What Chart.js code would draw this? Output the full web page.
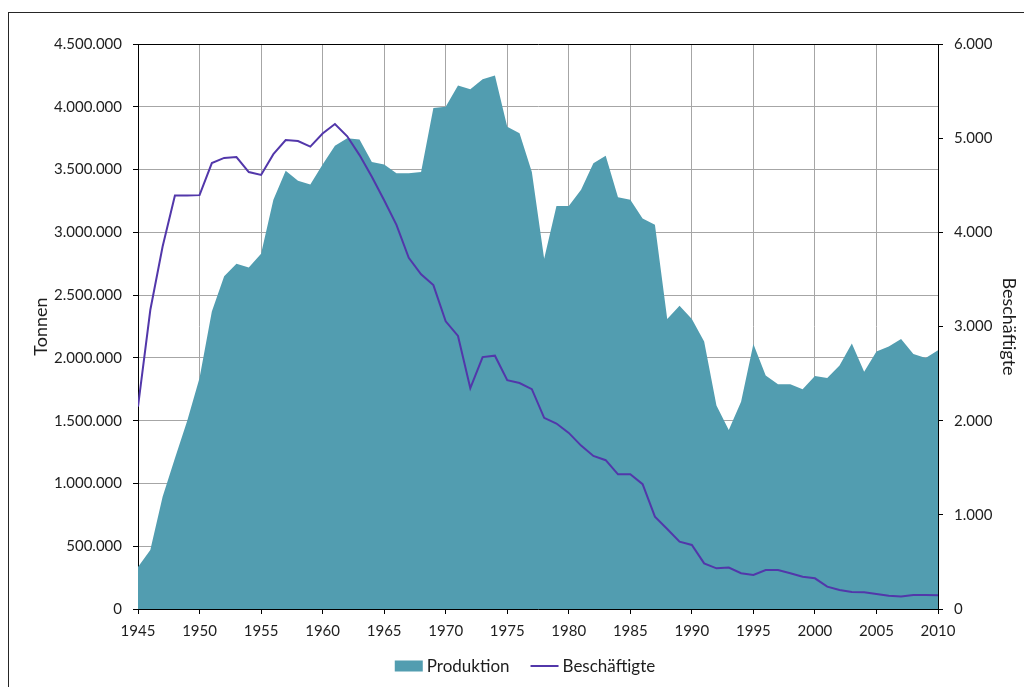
<!DOCTYPE html>
<html lang="de">
<head>
<meta charset="utf-8">
<title>Produktion und Beschäftigte 1945–2010</title>
<script src="https://cdn.jsdelivr.net/npm/chart.js@4.4.1/dist/chart.umd.min.js"></script>
<style>
  html, body { margin: 0; padding: 0; background: #fff; }
  #wrap { position: relative; width: 1024px; height: 687px; }
</style>
</head>
<body>
<div id="wrap"><canvas id="myChart"></canvas></div>
<script>
// Jahre 1945 bis 2010
const jahre = [
  1945, 1946, 1947, 1948, 1949, 1950, 1951, 1952, 1953, 1954,
  1955, 1956, 1957, 1958, 1959, 1960, 1961, 1962, 1963, 1964,
  1965, 1966, 1967, 1968, 1969, 1970, 1971, 1972, 1973, 1974,
  1975, 1976, 1977, 1978, 1979, 1980, 1981, 1982, 1983, 1984,
  1985, 1986, 1987, 1988, 1989, 1990, 1991, 1992, 1993, 1994,
  1995, 1996, 1997, 1998, 1999, 2000, 2001, 2002, 2003, 2004,
  2005, 2006, 2007, 2008, 2009, 2010
];

// Produktion in Tonnen
const produktion = [
  334000, 470000, 894000, 1200000, 1500000, 1840000, 2370000, 2650000, 2750000, 2720000,
  2830000, 3260000, 3490000, 3410000, 3380000, 3540000, 3690000, 3750000, 3740000, 3560000,
  3540000, 3470000, 3470000, 3480000, 3990000, 4000000, 4170000, 4140000, 4220000, 4250000,
  3840000, 3790000, 3480000, 2790000, 3210000, 3210000, 3340000, 3550000, 3610000, 3280000,
  3260000, 3110000, 3060000, 2310000, 2415000, 2310000, 2130000, 1620000, 1425000, 1650000,
  2110000, 1860000, 1790000, 1790000, 1750000, 1855000, 1840000, 1940000, 2115000, 1890000,
  2050000, 2090000, 2150000, 2030000, 2000000, 2060000
];

// Beschäftigte
const beschaeftigte = [
  2150, 3175, 3850, 4390, 4390, 4395, 4735, 4790, 4800, 4640,
  4610, 4830, 4980, 4970, 4910, 5050, 5150, 5020, 4820, 4590,
  4340, 4080, 3730, 3555, 3440, 3055, 2900, 2345, 2675, 2690,
  2430, 2400, 2335, 2030, 1970, 1870, 1735, 1625, 1580, 1430,
  1430, 1325, 980, 850, 715, 680, 485, 432, 440, 380,
  362, 414, 414, 380, 343, 326, 237, 202, 181, 178,
  159, 141, 134, 149, 149, 145
];

// Achsenbereiche
const xAchse = { min: 1945, max: 2010, schritt: 5 };
const tonnenAchse = { min: 0, max: 4500000, schritt: 500000 };
const personenAchse = { min: 0, max: 6000, schritt: 1000 };

const farbeProduktion = '#529db0';
const farbeBeschaeftigte = '#5237aa';
const textFarbe = '#1e1e1e';
const gitter = '#a6a6a6';
const schrift = 'Lato, "Open Sans", sans-serif';

function punkt(n) {
  return String(Math.round(n)).replace(/\B(?=(\d{3})+(?!\d))/g, '.');
}

// Rahmen um das Diagramm
const rahmen = {
  id: 'rahmen',
  beforeDraw(chart) {
    const ctx = chart.ctx;
    ctx.save();
    ctx.strokeStyle = '#262626';
    ctx.lineWidth = 1;
    ctx.strokeRect(8.5, 12.5, 1034, 700);
    ctx.restore();
  }
};

// Legende unten, mittig im Rahmen
const legende = {
  id: 'legende',
  afterDraw(chart) {
    const ctx = chart.ctx;
    const ds = chart.data.datasets;
    const mitte = 525, y = 666;
    const box = 28, luecke = 4, abstand = 21;
    ctx.save();
    ctx.font = '17px ' + schrift;
    ctx.textBaseline = 'middle';
    ctx.fillStyle = textFarbe;
    let breite = 0;
    ds.forEach((d, i) => {
      breite += box + luecke + ctx.measureText(d.label).width;
      if (i < ds.length - 1) breite += abstand;
    });
    let x = mitte - breite / 2;
    ds.forEach(d => {
      if (d.fill) {
        ctx.fillStyle = d.backgroundColor;
        ctx.fillRect(x, y - 5.5, box, 11);
      } else {
        ctx.strokeStyle = d.borderColor;
        ctx.lineWidth = 2;
        ctx.beginPath();
        ctx.moveTo(x, y);
        ctx.lineTo(x + box, y);
        ctx.stroke();
      }
      x += box + luecke;
      ctx.fillStyle = textFarbe;
      ctx.fillText(d.label, x, y + 1);
      x += ctx.measureText(d.label).width + abstand;
    });
    ctx.restore();
  }
};

const chart = new Chart(document.getElementById('myChart').getContext('2d'), {
  type: 'line',
  data: {
    datasets: [
      {
        label: 'Produktion',
        data: jahre.map((j, i) => ({ x: j, y: produktion[i] })),
        yAxisID: 'y',
        fill: 'origin',
        backgroundColor: farbeProduktion,
        borderColor: farbeProduktion,
        borderWidth: 0,
        pointRadius: 0,
        tension: 0,
        order: 1
      },
      {
        label: 'Beschäftigte',
        data: jahre.map((j, i) => ({ x: j, y: beschaeftigte[i] })),
        yAxisID: 'y1',
        fill: false,
        borderColor: farbeBeschaeftigte,
        backgroundColor: farbeBeschaeftigte,
        borderWidth: 2,
        pointRadius: 0,
        tension: 0,
        order: 0
      }
    ]
  },
  options: {
    responsive: true,
    maintainAspectRatio: false,
    animation: false,
    layout: { padding: { top: 44, left: 0, right: 0, bottom: 38 } },
    plugins: {
      legend: { display: false },
      tooltip: { enabled: false }
    },
    scales: {
      x: {
        type: 'linear',
        min: xAchse.min,
        max: xAchse.max,
        afterFit: s => { s.height = 40; },
        ticks: {
          stepSize: xAchse.schritt,
          padding: 8,
          color: textFarbe,
          font: { family: schrift, size: 15 },
          maxRotation: 0,
          callback: v => String(v)
        },
        grid: { color: gitter, tickColor: '#000', tickLength: 5 },
        border: { display: true, color: '#000', width: 1 }
      },
      y: {
        position: 'left',
        min: tonnenAchse.min,
        max: tonnenAchse.max,
        afterFit: s => { s.width = 138; },
        ticks: {
          stepSize: tonnenAchse.schritt,
          padding: 11,
          color: textFarbe,
          font: { family: schrift, size: 15 },
          callback: v => punkt(v)
        },
        grid: {
          color: c => (c.tick && c.tick.value === tonnenAchse.max ? '#000' : gitter),
          tickColor: '#000',
          tickLength: 5
        },
        border: { display: true, color: '#000', width: 1 },
        title: {
          display: true,
          text: 'Tonnen',
          color: textFarbe,
          font: { family: schrift, size: 18 },
          padding: { top: 30, bottom: 0 }
        }
      },
      y1: {
        position: 'right',
        min: personenAchse.min,
        max: personenAchse.max,
        afterFit: s => { s.width = 86; },
        ticks: {
          stepSize: personenAchse.schritt,
          padding: 11,
          color: textFarbe,
          font: { family: schrift, size: 15 },
          callback: v => punkt(v)
        },
        grid: { drawOnChartArea: false, tickColor: '#000', tickLength: 5 },
        border: { display: true, color: '#000', width: 1 },
        title: {
          display: true,
          text: 'Beschäftigte',
          color: textFarbe,
          font: { family: schrift, size: 18 },
          padding: { top: 4, bottom: 0 }
        }
      }
    }
  },
  plugins: [rahmen, legende]
});
</script>
</body>
</html>
